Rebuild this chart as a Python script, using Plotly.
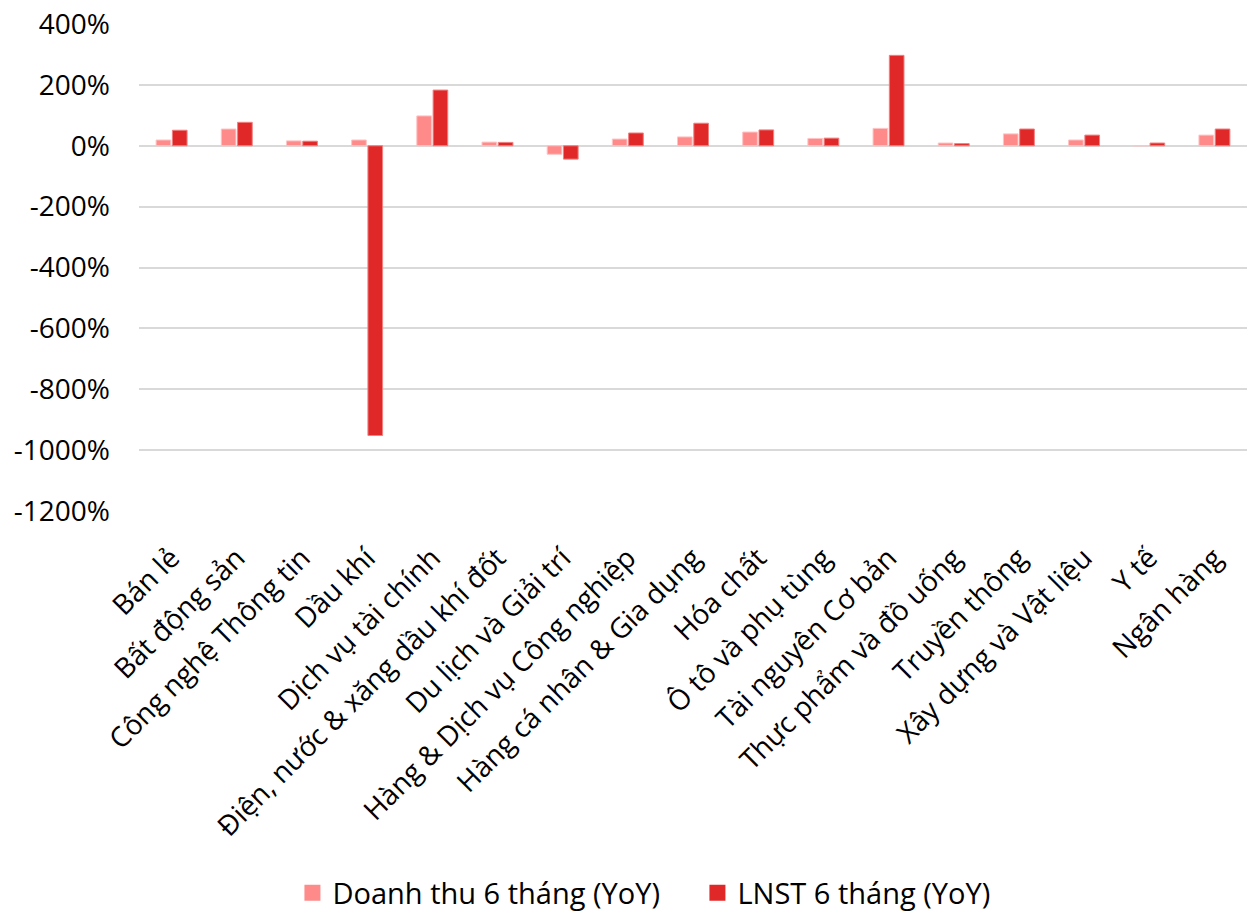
import plotly.graph_objects as go

categories = [
    "Bán lẻ", "Bất động sản", "Công nghệ Thông tin", "Dầu khí",
    "Dịch vụ tài chính", "Điện, nước & xăng dầu khí đốt", "Du lịch và Giải trí",
    "Hàng & Dịch vụ Công nghiệp", "Hàng cá nhân & Gia dụng", "Hóa chất",
    "Ô tô và phụ tùng", "Tài nguyên Cơ bản", "Thực phẩm và đồ uống",
    "Truyền thông", "Xây dựng và Vật liệu", "Y tế", "Ngân hàng",
]
revenue_yoy = [19, 55, 16, 19, 98, 12, -28, 22, 29, 45, 24, 57, 9, 39, 19, 0, 35]
profit_yoy = [51, 77, 15, -952, 183, 11, -44, 42, 74, 52, 25, 297, 7, 55, 35, 9, 55]
y_ticks = [400, 200, 0, -200, -400, -600, -800, -1000, -1200]
y_tick_labels = ["400%", "200%", "0%", "-200%", "-400%", "-600%", "-800%", "-1000%", "-1200%"]
series_names = ["Doanh thu 6 tháng (YoY)", "LNST 6 tháng (YoY)"]

FONT = "Open Sans"
LIGHT = "#FF8A8A"
DARK = "#E02828"

fig = go.Figure()
fig.add_trace(go.Bar(
    x=categories, y=revenue_yoy, name=series_names[0], showlegend=False,
    marker=dict(color=LIGHT, line=dict(color="#FFC4C4", width=1)),
))
fig.add_trace(go.Bar(
    x=categories, y=profit_yoy, name=series_names[1], showlegend=False,
    marker=dict(color=DARK, line=dict(color="#F08080", width=1)),
))
# legend keys: larger square swatches than the default bar icons
for name, color in zip(series_names, [LIGHT, DARK]):
    fig.add_trace(go.Scatter(
        x=[None], y=[None], mode="markers", name=name,
        marker=dict(symbol="square", size=18, color=color),
    ))

fig.update_layout(
    width=1247, height=911,
    margin=dict(l=139, r=0, t=24, b=400),
    paper_bgcolor="white", plot_bgcolor="white",
    font=dict(family=FONT, size=28, color="black"),
    barmode="group", bargap=0.5, bargroupgap=0.1,
    showlegend=True,
    legend=dict(
        orientation="h", x=0.504, xanchor="center",
        yref="container", y=0.02, yanchor="middle",
        font=dict(family=FONT, size=29, color="black"),
        itemwidth=30, entrywidth=360, tracegroupgap=0,
    ),
    xaxis=dict(
        tickangle=-45, showgrid=False, showline=False, ticks="",
        tickfont=dict(family=FONT, size=28), automargin=False,
        ticklabelstandoff=24,
    ),
    yaxis=dict(
        range=[-1200, 400], tickvals=y_ticks, ticktext=y_tick_labels,
        showgrid=True, gridcolor="#D9D9D9", gridwidth=1.5,
        zeroline=True, zerolinecolor="#D9D9D9", zerolinewidth=1.5,
        tickfont=dict(family=FONT, size=28), ticks="", ticklabelstandoff=28,
        automargin=False,
    ),
)

fig.write_html("out.html")
